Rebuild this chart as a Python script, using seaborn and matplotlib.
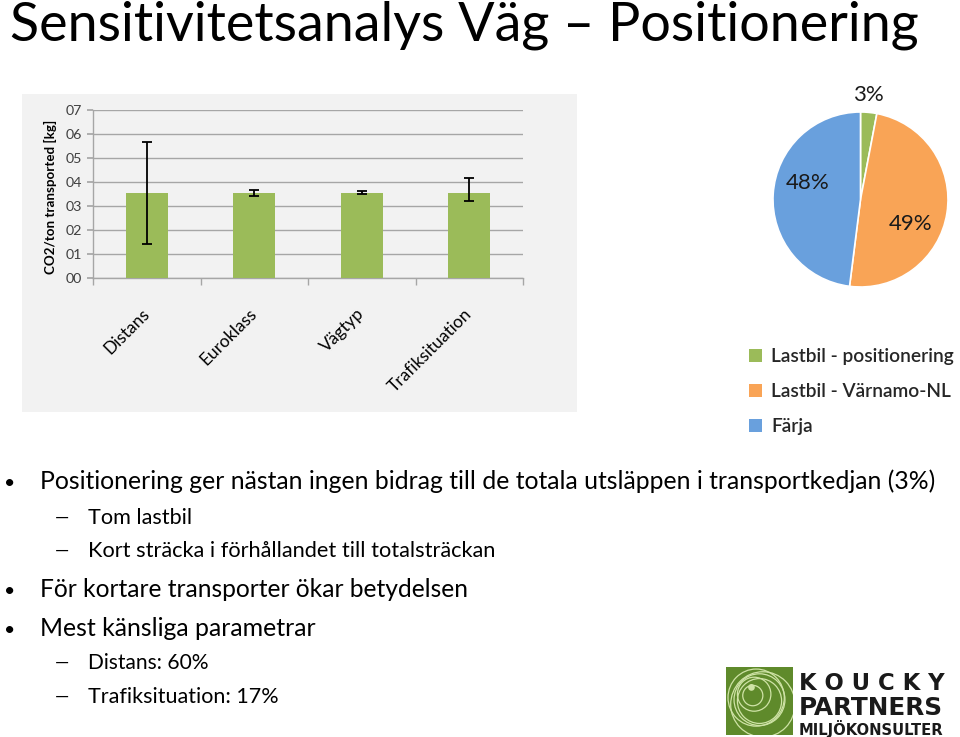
import matplotlib
matplotlib.use('Agg')
import matplotlib.pyplot as plt
import seaborn as sns
import numpy as np
import pandas as pd
from matplotlib.patches import Rectangle, Circle, Patch

sns.set_theme(style='white')
plt.rcParams['font.family'] = ['Lato', 'DejaVu Sans']

W, H = 960, 737

# ---------------- data ----------------
categories = ['Distans', 'Euroklass', 'Vägtyp', 'Trafiksituation']
co2_values = [0.355, 0.355, 0.355, 0.355]
err_low = [0.142, 0.342, 0.349, 0.322]
err_high = [0.568, 0.368, 0.364, 0.418]
ytick_values = [0.0, 0.1, 0.2, 0.3, 0.4, 0.5, 0.6, 0.7]
ytick_labels = ['00', '01', '02', '03', '04', '05', '06', '07']

pie_labels = ['Lastbil - positionering', 'Lastbil - Värnamo-NL', 'Färja']
pie_values = [3, 49, 48]
pie_pct = ['3%', '49%', '48%']
pie_colors = ['#9BBB59', '#F9A456', '#69A0DD']

title = 'Sensitivitetsanalys Väg – Positionering'
bullets = [
    # (level, text, baseline_y, target_width)
    (0, 'Positionering ger nästan ingen bidrag till de totala utsläppen i transportkedjan (3%)', 489, 898),
    (1, 'Tom lastbil', 524, 104),
    (1, 'Kort sträcka i förhållandet till totalsträckan', 557, 408),
    (0, 'För kortare transporter ökar betydelsen', 597, 430),
    (0, 'Mest känsliga parametrar', 636, 278),
    (1, 'Distans: 60%', 669, 121),
    (1, 'Trafiksituation: 17%', 703, 190),
]

# ---------------- helpers ----------------
fig = plt.figure(figsize=(9.6, 7.37), dpi=100)
fig.patch.set_facecolor('white')


def fx(px):
    return px / W


def fy(py):
    return 1 - py / H


def add_axes_px(left, top, right, bottom, **kw):
    return fig.add_axes([left / W, 1 - bottom / H, (right - left) / W, (bottom - top) / H], **kw)


renderer = fig.canvas.get_renderer()


def fit_text(x, y, s, target_w, size0=20, **kw):
    t = fig.text(fx(x), fy(y), s, fontsize=size0, **kw)
    w = t.get_window_extent(renderer=renderer).width
    t.set_fontsize(size0 * target_w / w)
    return t


# ---------------- title ----------------
fit_text(10, 40, title, 912, size0=34, va='baseline', ha='left', color='black')

# ---------------- bar chart panel ----------------
bg = add_axes_px(22, 94, 577, 412, zorder=-5)
bg.set_facecolor('#f2f2f2')
bg.set_xticks([])
bg.set_yticks([])
for s in bg.spines.values():
    s.set_visible(False)

ax = add_axes_px(93, 110, 523, 278)
ax.set_facecolor('#f2f2f2')
df = pd.DataFrame({'cat': categories, 'val': co2_values})
sns.barplot(data=df, x='cat', y='val', color='#9BBB59', saturation=1, width=0.39,
            errorbar=None, ax=ax, zorder=3, linewidth=0, edgecolor='none')
vals = np.array(co2_values)
yerr = [vals - np.array(err_low), np.array(err_high) - vals]
ax.errorbar(np.arange(len(categories)), vals, yerr=yerr, fmt='none', ecolor='black',
            elinewidth=1.3, capsize=3.5, capthick=1.3, zorder=4)
ax.set_ylim(0, 0.7)
ax.set_xlim(-0.5, len(categories) - 0.5)
ax.set_yticks(ytick_values)
ax.set_yticklabels(ytick_labels, fontsize=10.3, color='#404040')
ax.yaxis.grid(True, color='#a6a6a6', lw=1)
ax.set_axisbelow(True)
for side in ['top', 'right']:
    ax.spines[side].set_visible(False)
for side in ['left', 'bottom']:
    ax.spines[side].set_color('#a6a6a6')
    ax.spines[side].set_linewidth(1)
ax.tick_params(axis='y', length=4, color='#a6a6a6', left=True, pad=4)
ax.set_xticks(np.arange(len(categories)))
ax.set_xticks(np.arange(len(categories) + 1) - 0.5, minor=True)
ax.tick_params(axis='x', which='major', length=0, pad=24)
ax.tick_params(axis='x', which='minor', length=5, color='#a6a6a6', bottom=True, direction='out')
ax.set_xticklabels(categories, rotation=45, ha='right', va='center', rotation_mode='anchor',
                   fontsize=12.5, color='black')
ax.set_xlabel('')
ax.set_ylabel('')
fig.text(fx(50), fy(197), 'CO2/ton transported [kg]', rotation=90, ha='center', va='center',
         fontsize=9.6, fontweight='bold', color='black')

# ---------------- pie chart ----------------
pax = add_axes_px(773, 112, 948, 287)
pax.pie(pie_values, colors=pie_colors, startangle=90, counterclock=False,
        wedgeprops=dict(edgecolor='white', linewidth=1.2))
pax.set_xlim(-1, 1)
pax.set_ylim(-1, 1)
pax.set_aspect('equal')
pax.axis('off')
pie_text_pos = [(0.09, 1.19), (0.57, -0.28), (-0.60, 0.19)]
for (px_, py_), lab in zip(pie_text_pos, pie_pct):
    pax.text(px_, py_, lab, ha='center', va='center', fontsize=16, color='#1a1a1a', clip_on=False)

handles = [Patch(facecolor=c, edgecolor='none') for c in pie_colors]
fig.legend(handles, pie_labels, loc='upper left', bbox_to_anchor=(fx(749), fy(348)),
           frameon=False, handlelength=0.7, handleheight=0.7,
           handletextpad=0.45, labelspacing=0.95, borderaxespad=0, borderpad=0,
           prop={'weight': 'semibold', 'size': 13.8})

# ---------------- bullet text ----------------
for level, text, y, tw in bullets:
    if level == 0:
        fig.text(fx(4), fy(y), '•', fontsize=14, va='baseline', ha='left', color='black')
        fit_text(40, y, text, tw, size0=16, va='baseline', ha='left', color='black')
    else:
        fig.text(fx(55), fy(y - 1), '—', fontsize=13, va='baseline', ha='left', color='black')
        fit_text(88, y, text, tw, size0=14, va='baseline', ha='left', color='black')

# ---------------- logo ----------------
lax = add_axes_px(726, 667, 793, 735)
lax.set_xlim(0, 1)
lax.set_ylim(0, 1)
lax.axis('off')
lax.add_patch(Rectangle((0, 0), 1, 1, facecolor='#5f8a2b', edgecolor='none'))
for (cx, cy, r) in [(0.45, 0.55, 0.42), (0.5, 0.5, 0.33), (0.42, 0.6, 0.25),
                    (0.55, 0.45, 0.48), (0.4, 0.58, 0.15), (0.5, 0.52, 0.38)]:
    lax.add_patch(Circle((cx, cy), r, facecolor='none', edgecolor='#cfe3a6', lw=0.9,
                         clip_on=True))
lax.add_patch(Circle((0.38, 0.7), 0.05, facecolor='#cfe3a6', edgecolor='none'))
fit_text(799, 690, 'K O U C K Y', 146, size0=20, va='baseline', ha='left',
         fontweight='bold', family=['DejaVu Sans'], color='#1a1a1a')
fit_text(799, 715, 'PARTNERS', 144, size0=20, va='baseline', ha='left',
         fontweight='bold', family=['DejaVu Sans'], color='#1a1a1a')
fit_text(799, 735, 'MILJÖKONSULTER', 144, size0=10, va='baseline', ha='left',
         fontweight='bold', family=['DejaVu Sans'], color='#1a1a1a')

fig.savefig('out.png', dpi=100)
